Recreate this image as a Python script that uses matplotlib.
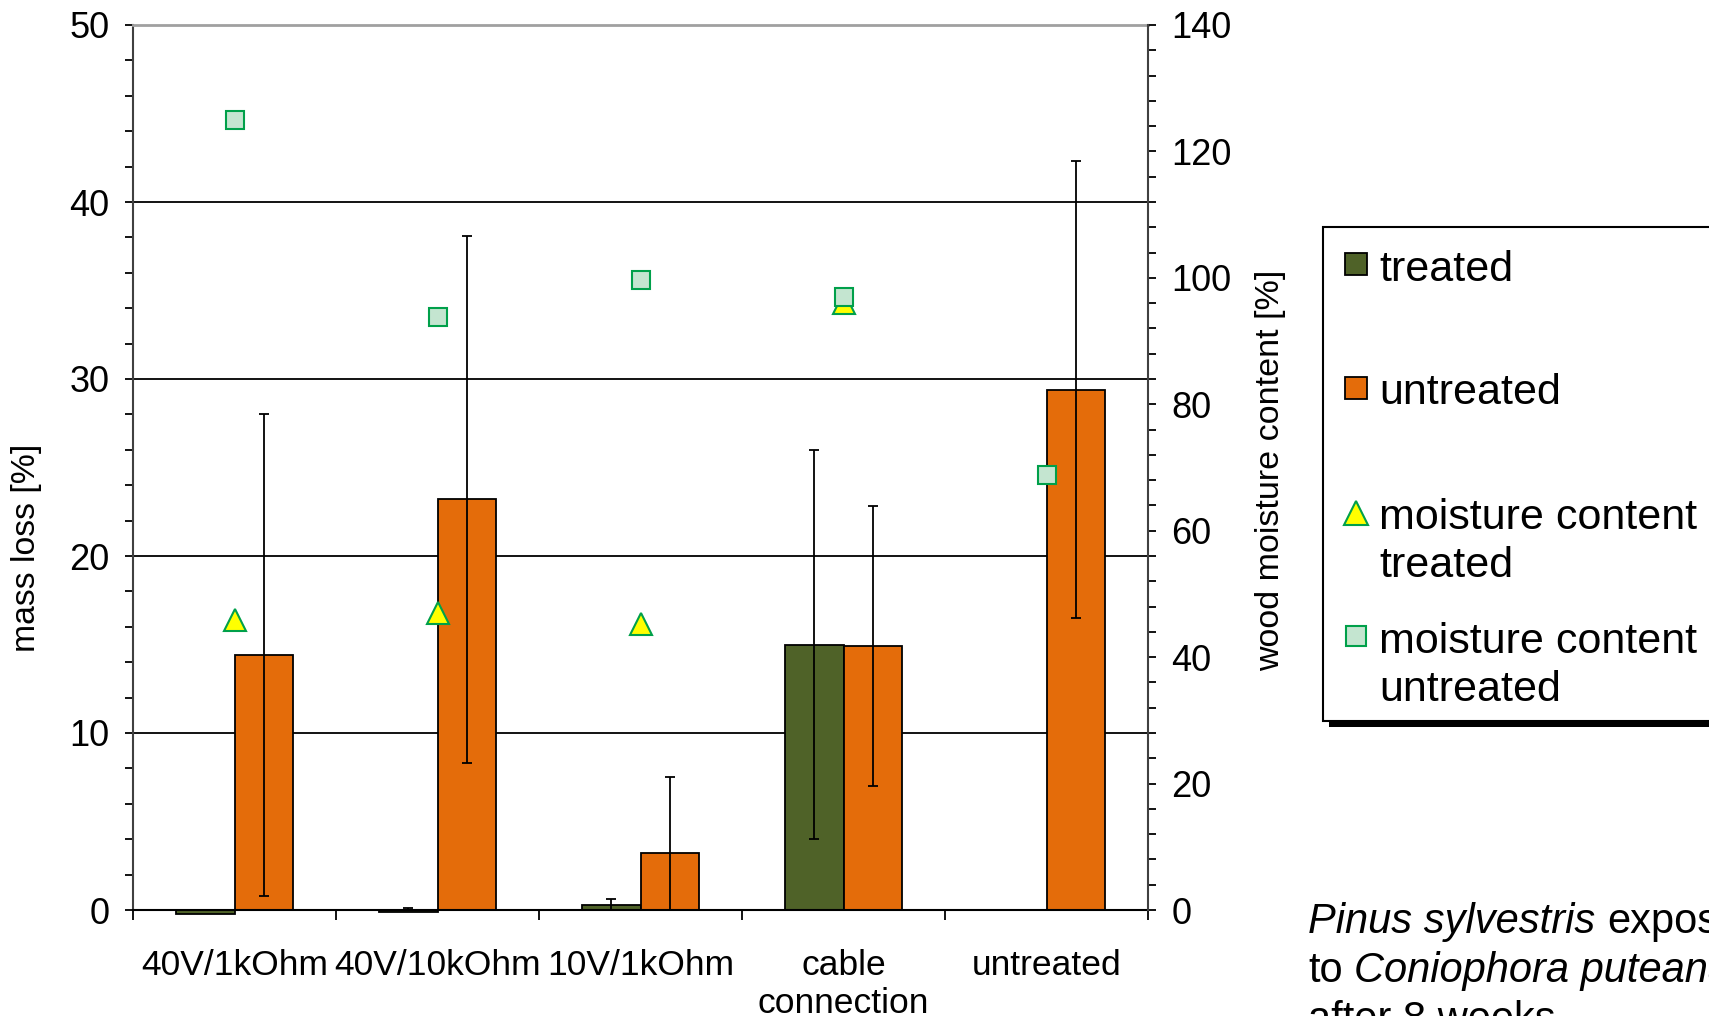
import numpy as np
import matplotlib.pyplot as plt
from matplotlib.lines import Line2D
from matplotlib.patches import Rectangle
from matplotlib.ticker import MultipleLocator

plt.rcParams['font.family'] = ['Liberation Sans', 'DejaVu Sans']

# data
categories = ['40V/1kOhm', '40V/10kOhm', '10V/1kOhm', 'cable\nconnection', 'untreated']
mass_loss_treated = [-0.2, -0.1, 0.3, 15.0, np.nan]
mass_loss_treated_err = [0.1, 0.2, 0.3, 11.0, np.nan]
mass_loss_untreated = [14.4, 23.2, 3.2, 14.9, 29.4]
mass_loss_untreated_err = [13.6, 14.9, 4.3, 7.9, 12.9]
moisture_treated = [45.8, 47.0, 45.3, 96.0, np.nan]
moisture_untreated = [125.0, 93.8, 99.7, 97.0, 68.8]
legend_labels = ['treated', 'untreated', 'moisture content\ntreated', 'moisture content\nuntreated']

treated_color = '#4F6228'
untreated_color = '#E46C0A'
sq_face, sq_edge = '#C4E5D0', '#00A04A'
tri_face, tri_edge = '#FFFF00', '#00A04A'

W, H = 1709, 1016
def fx(px):
    return px / W
def fy(py):
    return 1 - py / H

fig = plt.figure(figsize=(W / 100, H / 100), dpi=100)
ax = fig.add_axes([fx(133), fy(910), (1148 - 133) / W, (910 - 25) / H])

x = np.arange(len(categories))
bw = 0.286
ax.bar(x - bw / 2, mass_loss_treated, bw, color=treated_color, edgecolor='black',
       linewidth=1.3, zorder=2, clip_on=False)
ax.bar(x + bw / 2, mass_loss_untreated, bw, color=untreated_color, edgecolor='black',
       linewidth=1.3, zorder=2)
ax.errorbar(x - bw / 2, mass_loss_treated, yerr=mass_loss_treated_err, fmt='none',
            ecolor='black', elinewidth=1.3, capsize=3.6, capthick=1.3, zorder=3)
ax.errorbar(x + bw / 2, mass_loss_untreated, yerr=mass_loss_untreated_err, fmt='none',
            ecolor='black', elinewidth=1.3, capsize=3.6, capthick=1.3, zorder=3)

ax.set_xlim(-0.5, len(categories) - 0.5)
ax.set_ylim(0, 50)
ax.yaxis.set_major_locator(MultipleLocator(10))
ax.yaxis.set_minor_locator(MultipleLocator(2))
ax.grid(axis='y', which='major', color='black', linewidth=1.3)
ax.set_axisbelow(True)
ax.tick_params(axis='y', which='both', direction='out', length=6, width=1.3,
               labelsize=26, pad=11)

ax.set_xticks(np.arange(len(categories) + 1) - 0.5)
ax.set_xticklabels([])
ax.set_xticks(x, minor=True)
ax.set_xticklabels(categories, minor=True, fontsize=25.5, linespacing=1.2)
ax.tick_params(axis='x', which='major', direction='out', length=7, width=1.3)
ax.tick_params(axis='x', which='minor', length=0, pad=28)

ax.spines['left'].set_color('#404040')
ax.spines['left'].set_linewidth(1.5)
ax.spines['top'].set_color('#A0A0A0')
ax.spines['top'].set_linewidth(2)
ax.spines['right'].set_visible(False)
ax.spines['bottom'].set_linewidth(1.5)

ax2 = ax.twinx()
ax2.plot(x, moisture_treated, linestyle='none', marker='^', ms=16, mfc=tri_face,
         mec=tri_edge, mew=1.5)
ax2.plot(x, moisture_untreated, linestyle='none', marker='s', ms=13.5, mfc=sq_face,
         mec=sq_edge, mew=1.5)
ax2.set_ylim(0, 140)
ax2.yaxis.set_major_locator(MultipleLocator(20))
ax2.yaxis.set_minor_locator(MultipleLocator(4))
ax2.tick_params(axis='y', which='both', direction='out', length=6, width=1.3,
                labelsize=26, pad=11)
for s in ['left', 'top', 'bottom']:
    ax2.spines[s].set_visible(False)
ax2.spines['right'].set_color('#404040')
ax2.spines['right'].set_linewidth(1.5)

fig.text(fx(27), fy(548), 'mass loss [%]', rotation=90, ha='center', va='center',
         fontsize=24.3)
fig.text(fx(1271), fy(470), 'wood moisture content [%]', rotation=90, ha='center',
         va='center', fontsize=24.5)

# legend box drawn by hand (Excel-like spacing)
box_l, box_r, box_t, box_b = 1323, 1730, 227, 721
fig.add_artist(Rectangle((fx(box_l + 6), fy(box_b + 6)), (box_r - box_l) / W,
                         (box_b - box_t) / H, transform=fig.transFigure,
                         facecolor='black', edgecolor='none', zorder=5))
fig.add_artist(Rectangle((fx(box_l), fy(box_b)), (box_r - box_l) / W,
                         (box_b - box_t) / H, transform=fig.transFigure,
                         facecolor='white', edgecolor='black', linewidth=1.5, zorder=6))
handles = [dict(marker='s', ms=16, mfc=treated_color, mec='black', mew=1.3),
           dict(marker='s', ms=16, mfc=untreated_color, mec='black', mew=1.3),
           dict(marker='^', ms=17, mfc=tri_face, mec=tri_edge, mew=1.5),
           dict(marker='s', ms=15, mfc=sq_face, mec=sq_edge, mew=1.5)]
marker_y = [264, 388, 513, 636]
text_y = [270, 393, 518, 642]
for label, h, my, ty in zip(legend_labels, handles, marker_y, text_y):
    fig.add_artist(Line2D([fx(1356)], [fy(my)], linestyle='none',
                          transform=fig.transFigure, zorder=7, **h))
    for i, line in enumerate(label.split('\n')):
        fig.text(fx(1379), fy(ty + i * 48), line, ha='left', va='center',
                 fontsize=31, zorder=7)

# caption with italic species names
caption = [[('Pinus sylvestris', 'italic'), ('exposed', 'normal')],
           [('to', 'normal'), ('Coniophora puteana', 'italic')],
           [('after 8 weeks', 'normal')]]
cap_y = [922, 971, 1020]
renderer = fig.canvas.get_renderer()
space_px = 0.278 * 30 * 100 / 72
for parts, cy in zip(caption, cap_y):
    xpos = 1308
    for txt, style in parts:
        t = fig.text(fx(xpos), fy(cy), txt, ha='left', va='center', fontsize=30,
                     style=style)
        bb = t.get_window_extent(renderer=renderer)
        xpos = bb.x1 + space_px

fig.savefig('out.png', dpi=100)
